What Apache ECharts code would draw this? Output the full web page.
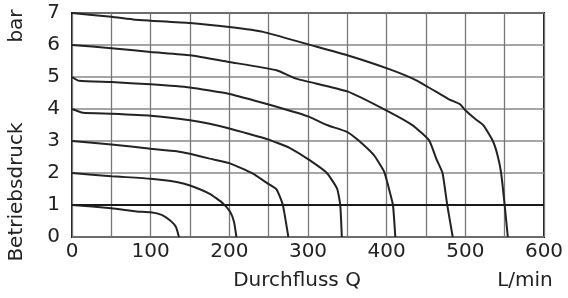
<!DOCTYPE html>
<html>
<head>
<meta charset="utf-8">
<script src="https://cdn.jsdelivr.net/npm/echarts@6/dist/echarts.min.js"></script>
<style>
  html, body { margin: 0; padding: 0; background: #fff; }
  #chart { width: 568px; height: 298px; }
</style>
</head>
<body>
<div id="chart"></div>
<script>
// Kennlinien: Durchfluss Q (L/min) gegen Betriebsdruck (bar)
var curve1 = [[0, 1], [50, 0.9], [82, 0.8], [100, 0.77], [114, 0.69], [124, 0.53], [132, 0.32], [136, 0]];
var curve2 = [[0, 2], [50, 1.9], [100, 1.82], [133, 1.72], [150, 1.61], [175, 1.35], [192, 1.05], [201, 0.79], [206, 0.47], [209, 0]];
var curve3 = [[0, 3], [50, 2.89], [100, 2.76], [133, 2.68], [150, 2.6], [175, 2.45], [200, 2.31], [230, 1.98], [249, 1.67], [260, 1.49], [268, 1.0], [275, 0]];
var curve4 = [[0, 4], [14, 3.88], [50, 3.85], [100, 3.79], [150, 3.65], [175, 3.54], [200, 3.39], [249, 3.05], [277, 2.78], [302, 2.4], [324, 2.0], [337, 1.51], [341, 1.0], [343, 0]];
var curve5 = [[0, 5], [9, 4.88], [50, 4.84], [100, 4.77], [150, 4.67], [200, 4.47], [250, 4.14], [300, 3.77], [324, 3.5], [350, 3.28], [364, 3.02], [384, 2.55], [397, 2.03], [403, 1.5], [408, 1.0], [411, 0]];
var curve6 = [[0, 6], [50, 5.9], [100, 5.78], [150, 5.68], [200, 5.47], [260, 5.21], [285, 4.95], [350, 4.55], [400, 3.95], [433, 3.49], [454, 3.02], [463, 2.45], [471, 2.0], [477, 1.0], [484, 0]];
var curve7 = [[0, 7], [50, 6.88], [80, 6.79], [100, 6.76], [150, 6.69], [200, 6.56], [243, 6.41], [300, 6.02], [350, 5.68], [405, 5.23], [439, 4.88], [478, 4.32], [493, 4.15], [500, 3.96], [512, 3.7], [523, 3.49], [535, 3.0], [541, 2.55], [545.5, 2.0], [550, 1.0], [554, 0]];
var curves = [curve1, curve2, curve3, curve4, curve5, curve6, curve7];
var refPressure = 1;

var font = 'DejaVu Sans';
var textColor = '#222';

var myChart = echarts.init(document.getElementById('chart'));

var series = curves.map(function (c) {
    return {
        type: 'line',
        data: c,
        showSymbol: false,
        smooth: 0.15,
        smoothMonotone: 'none',
        lineStyle: { color: '#232323', width: 2 },
        animation: false,
        silent: true
    };
});
series[0].markLine = {
    symbol: 'none',
    silent: true,
    label: { show: false },
    lineStyle: { color: '#1a1a1a', width: 2, type: 'solid' },
    data: [{ yAxis: refPressure }]
};

var option = {
    animation: false,
    grid: {
        left: 72, right: 24, top: 13, bottom: 61,
        show: true, borderColor: '#1a1a1a', borderWidth: 2
    },
    xAxis: {
        type: 'value',
        min: 0, max: 600, interval: 50,
        axisLine: { show: false },
        axisTick: { show: false },
        axisLabel: {
            fontFamily: font, fontSize: 20, color: textColor, margin: 5,
            formatter: function (v) { return v % 100 === 0 ? String(v) : ''; }
        },
        splitLine: { lineStyle: { color: '#777', width: 1.3 } }
    },
    yAxis: {
        type: 'value',
        min: 0, max: 7, interval: 1,
        axisLine: { show: false },
        axisTick: { show: false },
        axisLabel: {
            fontFamily: font, fontSize: 20, color: textColor, margin: 12,
            padding: [5, 0, 0, 0]
        },
        splitLine: { lineStyle: { color: '#888', width: 1.5 } }
    },
    graphic: [
        {
            type: 'text', x: 297, y: 281,
            style: { text: 'Durchfluss Q', font: '20px "DejaVu Sans"', fill: textColor,
                     textAlign: 'center', textVerticalAlign: 'middle' }
        },
        {
            type: 'text', x: 525, y: 281,
            style: { text: 'L/min', font: '20px "DejaVu Sans"', fill: textColor,
                     textAlign: 'center', textVerticalAlign: 'middle' }
        },
        {
            type: 'text', x: 17, y: 192, rotation: Math.PI / 2,
            style: { text: 'Betriebsdruck', font: '20px "DejaVu Sans"', fill: textColor,
                     textAlign: 'center', textVerticalAlign: 'middle' }
        },
        {
            type: 'text', x: 17, y: 26, rotation: Math.PI / 2,
            style: { text: 'bar', font: '20px "DejaVu Sans"', fill: textColor,
                     textAlign: 'center', textVerticalAlign: 'middle' }
        }
    ],
    series: series
};
myChart.setOption(option);
</script>
</body>
</html>
